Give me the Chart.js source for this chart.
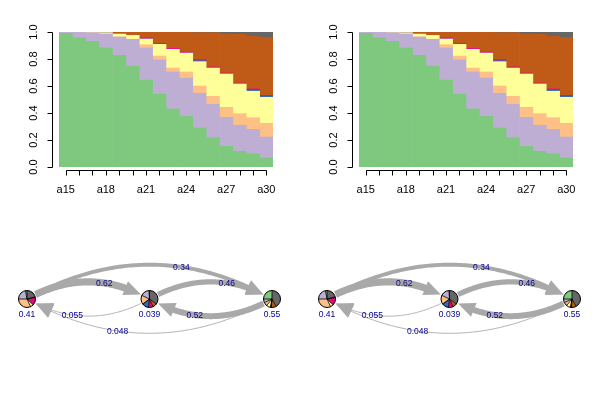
<!DOCTYPE html>
<html>
<head>
<meta charset="utf-8">
<script src="https://cdn.jsdelivr.net/npm/chart.js@4.4.0/dist/chart.umd.min.js"></script>
<style>
  html, body { margin: 0; padding: 0; background: #fff; }
  #wrap { position: relative; width: 600px; height: 400px; }
  .cell { position: absolute; width: 300px; height: 200px; }
</style>
</head>
<body>
<div id="wrap">
  <div class="cell" style="left:0;top:0"><canvas id="area1" width="300" height="200"></canvas></div>
  <div class="cell" style="left:300px;top:0"><canvas id="area2" width="300" height="200"></canvas></div>
  <div class="cell" style="left:0;top:200px"><canvas id="net1" width="300" height="200"></canvas></div>
  <div class="cell" style="left:300px;top:200px"><canvas id="net2" width="300" height="200"></canvas></div>
</div>
<script>
// ===== Data =====
const ages = ['a15','a16','a17','a18','a19','a20','a21','a22','a23','a24','a25','a26','a27','a28','a29','a30'];
const states = ['S1','S2','S3','S4','S5','S6','S7','S8'];
const stateColors = ['#7FC97F','#BEAED4','#FDC086','#FFFF99','#386CB0','#F0027F','#BF5B17','#666666'];

// share of each state per age (stacked bottom to top)
const shareS1 = [0.990,0.956,0.931,0.882,0.827,0.748,0.644,0.541,0.430,0.375,0.289,0.217,0.153,0.116,0.099,0.067];
const shareS2 = [0.010,0.044,0.064,0.103,0.136,0.198,0.238,0.252,0.274,0.284,0.257,0.247,0.215,0.193,0.180,0.155];
const shareS3 = [0,0,0,0,0,0,0.024,0.029,0.029,0.045,0.054,0.060,0.074,0.086,0.086,0.102];
const shareS4 = [0,0,0.005,0.010,0.022,0.029,0.042,0.087,0.139,0.140,0.180,0.209,0.247,0.220,0.196,0.192];
const shareS5 = [0,0,0,0,0,0,0,0,0,0,0.008,0,0,0,0.009,0.010];
const shareS6 = [0,0,0,0,0,0,0.008,0.007,0.007,0.008,0.007,0.008,0.007,0.007,0.008,0.005];
const shareS7 = [0,0,0,0.005,0.015,0.025,0.044,0.084,0.121,0.148,0.200,0.254,0.289,0.361,0.390,0.427];
const shareS8 = [0,0,0,0,0,0,0,0,0,0,0.005,0.005,0.015,0.017,0.032,0.042];
const stateShares = [shareS1, shareS2, shareS3, shareS4, shareS5, shareS6, shareS7, shareS8];

const yTicks = [0, 0.2, 0.4, 0.6, 0.8, 1.0];
const yTickLabels = ['0.0','0.2','0.4','0.6','0.8','1.0'];
const xTickLabels = ['a15','a18','a21','a24','a27','a30'];

// transition network
const nodeNames = ['1','2','3'];
const nodeLabels = ['0.41','0.039','0.55'];
const pieNode1 = [0.03,0.22,0.32,0.06,0,0.15,0.01,0.21];
const pieNode2 = [0.01,0.17,0.17,0.01,0.12,0.09,0.08,0.35];
const pieNode3 = [0.25,0.07,0.07,0.08,0.01,0.01,0.09,0.42];
const nodePies = [pieNode1, pieNode2, pieNode3];
const edgeFrom = [0, 0, 1, 2, 1, 2];
const edgeTo   = [1, 2, 2, 1, 0, 0];
const edgeProb = [0.62, 0.34, 0.46, 0.52, 0.055, 0.048];

// ===== R-style detached axes =====
const rAxes = {
  id: 'rAxes',
  afterDraw(chart) {
    const { ctx, chartArea: a, scales: { x, y } } = chart;
    ctx.save();
    ctx.strokeStyle = '#000';
    ctx.fillStyle = '#000';
    ctx.lineWidth = 1;
    ctx.font = '11px "Liberation Sans", Arial, sans-serif';

    // y axis
    const yx = Math.round(a.left - 7) + 0.5;
    ctx.beginPath();
    ctx.moveTo(yx, Math.round(y.getPixelForValue(yTicks[yTicks.length - 1])) + 0.5);
    ctx.lineTo(yx, Math.round(y.getPixelForValue(yTicks[0])) + 0.5);
    yTicks.forEach(v => {
      const py = Math.round(y.getPixelForValue(v)) + 0.5;
      ctx.moveTo(yx, py);
      ctx.lineTo(yx - 5, py);
    });
    ctx.stroke();
    ctx.textAlign = 'center';
    ctx.textBaseline = 'alphabetic';
    yTicks.forEach((v, i) => {
      ctx.save();
      ctx.translate(yx - 16, y.getPixelForValue(v));
      ctx.rotate(-Math.PI / 2);
      ctx.fillText(yTickLabels[i], 0, 0);
      ctx.restore();
    });

    // x axis
    const xy = Math.round(a.bottom + 3) + 0.5;
    const first = Math.round(x.getPixelForValue(0)) + 0.5;
    const last = Math.round(x.getPixelForValue(ages.length - 1)) + 0.5;
    ctx.beginPath();
    ctx.moveTo(first, xy);
    ctx.lineTo(last, xy);
    ages.forEach((_, i) => {
      const px = Math.round(x.getPixelForValue(i)) + 0.5;
      ctx.moveTo(px, xy);
      ctx.lineTo(px, xy + 5);
    });
    ctx.stroke();
    xTickLabels.forEach(lab => {
      const i = ages.indexOf(lab);
      ctx.fillText(lab, x.getPixelForValue(i), xy + 22.5);
    });
    ctx.restore();
  }
};

function makeArea(id) {
  new Chart(document.getElementById(id), {
    type: 'bar',
    data: {
      labels: ages,
      datasets: states.map((s, i) => ({
        label: s,
        data: stateShares[i],
        backgroundColor: stateColors[i],
        borderWidth: 0,
        barPercentage: 1,
        categoryPercentage: 1
      }))
    },
    options: {
      responsive: false,
      animation: false,
      events: [],
      layout: { padding: { left: 59, right: 27, top: 32, bottom: 33 } },
      plugins: { legend: { display: false }, tooltip: { enabled: false } },
      scales: {
        x: { stacked: true, display: false },
        y: { stacked: true, display: false, min: 0, max: 1 }
      }
    },
    plugins: [rAxes]
  });
}

// ===== Network drawing =====
function bez(p0, c, p1, t) {
  const u = 1 - t;
  return { x: u * u * p0.x + 2 * u * t * c.x + t * t * p1.x,
           y: u * u * p0.y + 2 * u * t * c.y + t * t * p1.y };
}
function dist(a, b) { return Math.hypot(a.x - b.x, a.y - b.y); }

const netDraw = {
  id: 'netDraw',
  afterDatasetsDraw(chart) {
    const ctx = chart.ctx;
    const pts = chart.getDatasetMeta(0).data.map(p => ({ x: p.x, y: p.y }));
    const r = 8.5, curv = 0.28, arrowLen = 17, arrowHalf = 7.5;
    ctx.save();

    // edges
    edgeFrom.forEach((f, k) => {
      const A = pts[f], B = pts[edgeTo[k]];
      const dx = B.x - A.x, dy = B.y - A.y;
      const C = { x: (A.x + B.x) / 2 + curv * dy, y: (A.y + B.y) / 2 - curv * dx };
      let t0 = 0, t1 = 1;
      while (t0 < 1 && dist(bez(A, C, B, t0), A) < r + 1) t0 += 0.002;
      while (t1 > 0 && dist(bez(A, C, B, t1), B) < r + 1) t1 -= 0.002;
      const tip = bez(A, C, B, t1);
      let t2 = t1;
      while (t2 > t0 && dist(bez(A, C, B, t2), tip) < arrowLen - 2) t2 -= 0.002;
      ctx.strokeStyle = '#A9A9A9';
      ctx.fillStyle = '#A9A9A9';
      ctx.lineWidth = Math.max(0.9, edgeProb[k] * 11.5);
      ctx.beginPath();
      for (let t = t0; t <= t2; t += 0.01) {
        const p = bez(A, C, B, t);
        if (t === t0) ctx.moveTo(p.x, p.y); else ctx.lineTo(p.x, p.y);
      }
      const pe = bez(A, C, B, t2);
      ctx.lineTo(pe.x, pe.y);
      ctx.stroke();
      // arrow head
      const back = bez(A, C, B, Math.max(t0, t2 - 0.02));
      const ang = Math.atan2(tip.y - back.y, tip.x - back.x);
      const bx = tip.x - arrowLen * Math.cos(ang), by = tip.y - arrowLen * Math.sin(ang);
      ctx.beginPath();
      ctx.moveTo(tip.x, tip.y);
      ctx.lineTo(bx + arrowHalf * Math.sin(ang), by - arrowHalf * Math.cos(ang));
      ctx.lineTo(bx - arrowHalf * Math.sin(ang), by + arrowHalf * Math.cos(ang));
      ctx.closePath();
      ctx.fill();
    });

    // pies
    pts.forEach((p, n) => {
      let start = -Math.PI / 2;
      const bounds = [];
      nodePies[n].forEach((v, s) => {
        if (v <= 0) return;
        const end = start - v * 2 * Math.PI;
        ctx.beginPath();
        ctx.moveTo(p.x, p.y);
        ctx.arc(p.x, p.y, r, start, end, true);
        ctx.closePath();
        ctx.fillStyle = stateColors[s];
        ctx.fill();
        bounds.push(start);
        start = end;
      });
      ctx.strokeStyle = '#000';
      ctx.lineWidth = 0.8;
      ctx.beginPath();
      bounds.forEach(b => {
        ctx.moveTo(p.x, p.y);
        ctx.lineTo(p.x + r * Math.cos(b), p.y + r * Math.sin(b));
      });
      ctx.stroke();
      ctx.lineWidth = 1;
      ctx.beginPath();
      ctx.arc(p.x, p.y, r, 0, 2 * Math.PI);
      ctx.stroke();
    });

    // labels
    ctx.fillStyle = '#00008B';
    ctx.font = '8.5px "Liberation Sans", Arial, sans-serif';
    ctx.textAlign = 'center';
    ctx.textBaseline = 'middle';
    edgeFrom.forEach((f, k) => {
      const A = pts[f], B = pts[edgeTo[k]];
      const dx = B.x - A.x, dy = B.y - A.y;
      const C = { x: (A.x + B.x) / 2 + curv * dy, y: (A.y + B.y) / 2 - curv * dx };
      const m = bez(A, C, B, 0.63);
      ctx.fillText(String(edgeProb[k]), m.x, m.y + 1);
    });
    pts.forEach((p, n) => ctx.fillText(nodeLabels[n], p.x, p.y + 16));
    ctx.restore();
  }
};

function makeNet(id) {
  new Chart(document.getElementById(id), {
    type: 'line',
    data: {
      labels: nodeNames,
      datasets: [{ data: nodeNames.map(() => 0), showLine: false, pointRadius: 0 }]
    },
    options: {
      responsive: false,
      animation: false,
      events: [],
      layout: { padding: { left: 27, right: 28, top: 0, bottom: 2 } },
      plugins: { legend: { display: false }, tooltip: { enabled: false } },
      scales: {
        x: { display: false, offset: false },
        y: { display: false, min: -1, max: 1 }
      }
    },
    plugins: [netDraw]
  });
}

makeArea('area1');
makeArea('area2');
makeNet('net1');
makeNet('net2');
</script>
</body>
</html>
